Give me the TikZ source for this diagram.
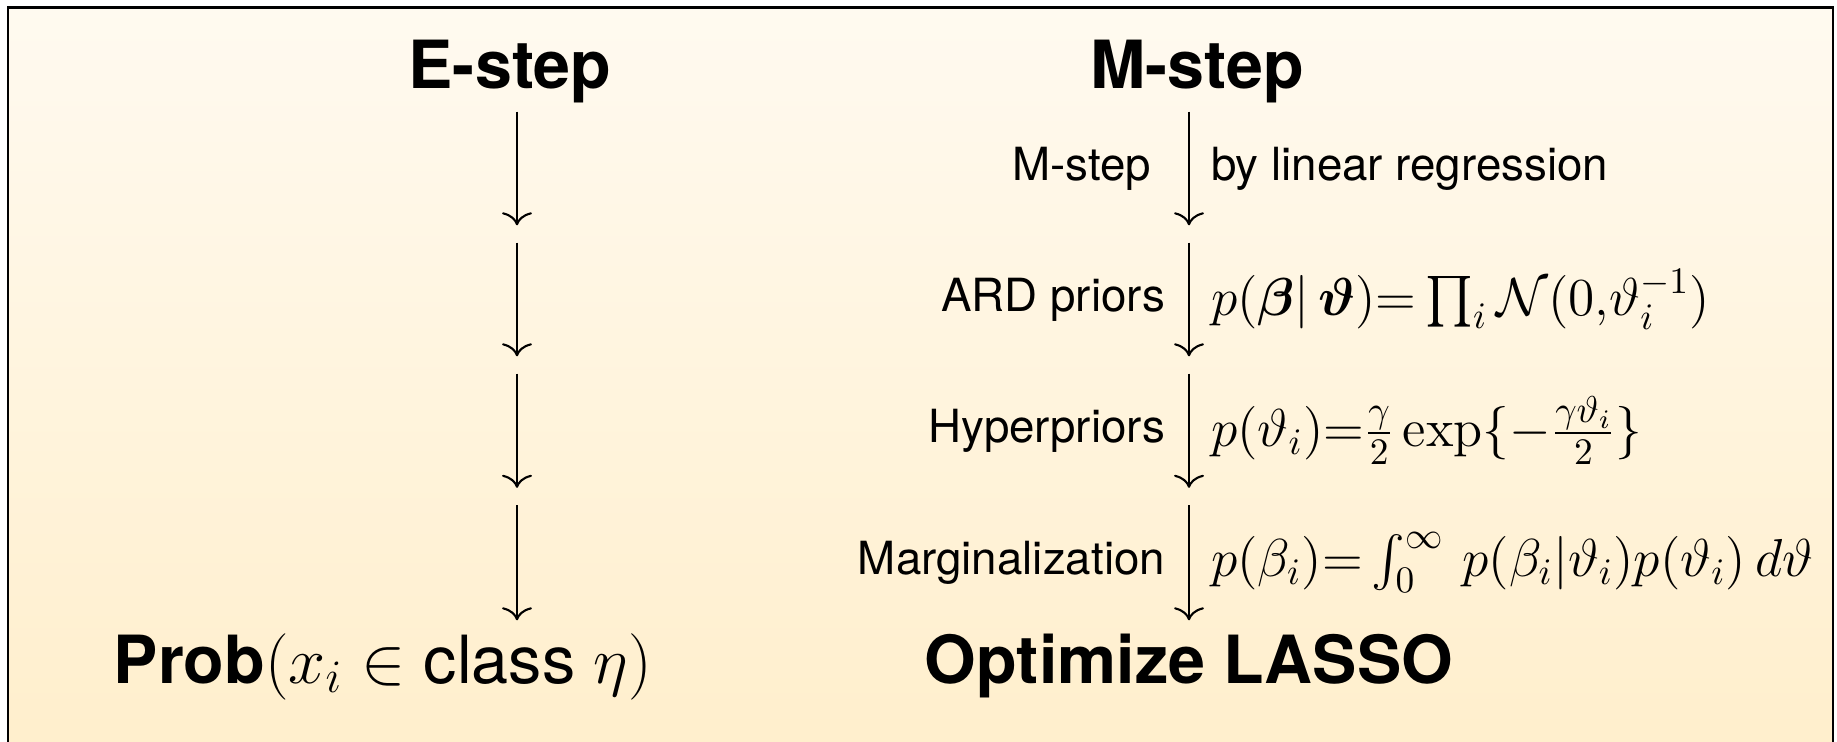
\RequirePackage{fix-cm}
\documentclass[tikz,border=0pt]{standalone}
\usepackage{amsmath}
\usepackage[no-math]{fontspec}
\setsansfont{TeX Gyre Heros}
\usetikzlibrary{arrows.meta}

\definecolor{paneltop}{RGB}{255,250,240}
\definecolor{panelbot}{RGB}{255,238,202}

\begin{document}
\begin{tikzpicture}[
  head/.style={font=\sffamily\bfseries\fontsize{18.9}{22}\selectfont,
    anchor=base, inner sep=0.03cm, text depth=0.2cm},
  goal/.style={font=\sffamily\fontsize{18.9}{22}\selectfont,
    anchor=base, inner sep=0.07cm, text height=0.55cm},
  gap/.style={inner sep=0pt, minimum width=0pt, minimum height=0.16cm},
  lab/.style={font=\sffamily\fontsize{13}{15}\selectfont, inner sep=0pt},
  mlab/.style={font=\fontsize{15.2}{18}\selectfont, inner sep=0pt},
  flow/.style={-{Computer Modern Rightarrow[length=3.7pt,width=8.5pt]},
    line width=0.6pt}
]
  \useasboundingbox (0,0) rectangle (18.37,7.41);
  \clip (0,0) rectangle (18.37,7.41);

  %% panel, open at the bottom
  \draw[line width=0.7pt, top color=paneltop, bottom color=panelbot]
    (0.08,-0.5) rectangle (18.33,7.335);

  %% E column
  \node[head] (E) at (5.10,6.53) {E-step};
  \node[gap] (e1) at (5.17,5.07) {};
  \node[gap] (e2) at (5.17,3.76) {};
  \node[gap] (e3) at (5.17,2.445) {};
  \node[goal, anchor=base west] (P) at (1.06,0.58)
    {\textbf{Prob}$(x_i\in\text{class}\ \eta)$};

  \draw[flow] (e1 |- E.south) -- (e1);
  \draw[flow] (e1) -- (e2);
  \draw[flow] (e2) -- (e3);
  \draw[flow] (e3) -- (e3 |- P.north);

  %% M column
  \node[head] (M) at (11.97,6.53) {M-step};
  \node[gap] (m1) at (11.89,5.07) {};
  \node[gap] (m2) at (11.89,3.76) {};
  \node[gap] (m3) at (11.89,2.445) {};
  \node[goal, font=\sffamily\bfseries\fontsize{18.9}{22}\selectfont] (L)
    at (11.89,0.58) {Optimize LASSO};

  \draw[flow] (m1 |- M.south) --
    node[lab, left=0.37cm] {M-step}
    node[lab, right=0.21cm] {by linear regression} (m1);
  \draw[flow] (m1) --
    node[lab, left=0.23cm] {ARD priors}
    node[mlab, right=0.21cm]
      {$p(\boldsymbol{\beta}|\,\boldsymbol{\vartheta}){=}\prod_i\mathcal{N}(0{,}\vartheta_i^{-1})$}
    (m2);
  \draw[flow] (m2) --
    node[lab, left=0.23cm] {Hyperpriors}
    node[mlab, right=0.21cm]
      {$p(\vartheta_i){=}\frac{\gamma}{2}\exp\{-\frac{\gamma\vartheta_i}{2}\}$}
    (m3);
  \draw[flow] (m3) --
    node[lab, left=0.23cm] {Marginalization}
    node[mlab, right=0.21cm]
      {$p(\beta_i){=}\int_0^\infty\, p(\beta_i|\vartheta_i)p(\vartheta_i)\,d\vartheta$}
    (L);
\end{tikzpicture}
\end{document}
